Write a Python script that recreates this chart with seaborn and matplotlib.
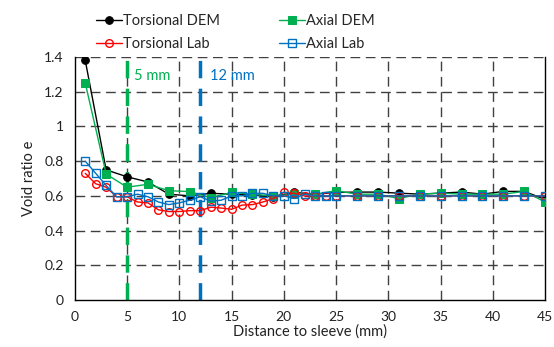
import numpy as np
import pandas as pd
import matplotlib
matplotlib.use("Agg")
import matplotlib.pyplot as plt
import seaborn as sns

# ---- data ----
x_dem = [1, 3, 5, 7, 9, 11, 13, 15, 17, 19, 21, 23, 25, 27, 29, 31, 33, 35, 37, 39, 41, 43, 45]
torsional_dem = [1.38, 0.75, 0.71, 0.68, 0.61, 0.60, 0.615, 0.61, 0.605, 0.595, 0.62, 0.61, 0.62,
                 0.622, 0.622, 0.616, 0.61, 0.616, 0.622, 0.61, 0.626, 0.626, 0.58]
axial_dem = [1.25, 0.726, 0.65, 0.667, 0.63, 0.625, 0.59, 0.62, 0.61, 0.60, 0.61, 0.61, 0.63,
             0.61, 0.61, 0.585, 0.61, 0.616, 0.61, 0.61, 0.61, 0.626, 0.565]

x_lab = [1, 2, 3, 4, 5, 6, 7, 8, 9, 10, 11, 12, 13, 14, 15, 16, 17, 18, 19, 20, 21, 22, 23, 24, 25,
         27, 29, 31, 33, 35, 37, 39, 41, 43, 45]
torsional_lab = [0.73, 0.67, 0.65, 0.595, 0.595, 0.565, 0.56, 0.52, 0.51, 0.51, 0.515, 0.515, 0.535,
                 0.53, 0.523, 0.547, 0.55, 0.565, 0.585, 0.62, 0.615, 0.60, 0.60, 0.60, 0.60,
                 0.60, 0.60, 0.60, 0.60, 0.60, 0.60, 0.60, 0.60, 0.60, 0.60]
axial_lab = [0.80, 0.73, 0.66, 0.595, 0.595, 0.61, 0.595, 0.565, 0.55, 0.56, 0.575, 0.595, 0.57,
             0.575, 0.60, 0.60, 0.615, 0.615, 0.60, 0.60, 0.585, 0.61, 0.60, 0.60, 0.60,
             0.60, 0.60, 0.60, 0.60, 0.60, 0.60, 0.60, 0.60, 0.60, 0.60]

x_ticks = [0, 5, 10, 15, 20, 25, 30, 35, 40, 45]
y_ticks = [0, 0.2, 0.4, 0.6, 0.8, 1.0, 1.2, 1.4]
y_tick_labels = ["0", "0.2", "0.4", "0.6", "0.8", "1", "1.2", "1.4"]
markers_lines = [(5, "5 mm"), (12, "12 mm")]

sns.set_theme(style="white")
plt.rcParams["font.family"] = ["Lato", "DejaVu Sans"]

fig = plt.figure(figsize=(5.54, 3.47), dpi=100)
ax = fig.add_axes([0.135, 0.135, 0.849, 0.701])

ax.set_xlim(0, 45)
ax.set_ylim(0, 1.4)

# gridlines
for xv in x_ticks[1:-1]:
    ax.axvline(xv, color="#404040", lw=1.0, ls=(0, (7, 4)), zorder=1)
for yv in y_ticks[1:]:
    ax.axhline(yv, color="#404040", lw=1.0, ls=(0, (7, 4)), zorder=1)

green = "#00B050"
blue = "#0070C0"
ax.axvline(markers_lines[0][0], color=green, lw=2.5, ls=(0, (5, 3)), zorder=2)
ax.axvline(markers_lines[1][0], color=blue, lw=2.5, ls=(0, (5, 3)), zorder=2)
ax.text(5.7, 1.29, markers_lines[0][1], color=green, fontsize=10.5, va="center", ha="left")
ax.text(12.9, 1.29, markers_lines[1][1], color=blue, fontsize=10.5, va="center", ha="left")

df_dem = pd.DataFrame({"x": x_dem, "td": torsional_dem, "ad": axial_dem})
df_lab = pd.DataFrame({"x": x_lab, "tl": torsional_lab, "al": axial_lab})

sns.lineplot(data=df_dem, x="x", y="td", ax=ax, color="black", lw=1.0, marker="o",
             markersize=5.5, markeredgecolor="black", markerfacecolor="black",
             label="Torsional DEM", zorder=3)
sns.lineplot(data=df_dem, x="x", y="ad", ax=ax, color=green, lw=1.0, marker="s",
             markersize=5.5, markeredgecolor=green, markerfacecolor=green,
             label="Axial DEM", zorder=3)
sns.lineplot(data=df_lab, x="x", y="tl", ax=ax, color="#FF0000", lw=1.0, marker="o",
             markersize=5.5, markeredgecolor="#FF0000", markerfacecolor="none",
             markeredgewidth=1.0, label="Torsional Lab", zorder=4)
sns.lineplot(data=df_lab, x="x", y="al", ax=ax, color=blue, lw=1.0, marker="s",
             markersize=5.5, markeredgecolor=blue, markerfacecolor="none",
             markeredgewidth=1.0, label="Axial Lab", zorder=4)

ax.set_xticks(x_ticks)
ax.set_yticks(y_ticks)
ax.set_yticklabels(y_tick_labels)
ax.tick_params(axis="both", length=0, labelsize=10, colors="#222222", pad=8)
ax.set_xlabel("Distance to sleeve (mm)", fontsize=10.5, color="#222222", labelpad=1)
ax.set_ylabel("Void ratio e", fontsize=10.5, color="#222222", labelpad=6)

for side in ["left", "bottom", "right"]:
    ax.spines[side].set_color("black")
    ax.spines[side].set_linewidth(1.0)
ax.spines["top"].set_visible(False)

handles, labels = ax.get_legend_handles_labels()
order = [0, 2, 1, 3]
leg = ax.legend([handles[i] for i in order], [labels[i] for i in order], ncol=2,
                loc="upper left", bbox_to_anchor=(0.032, 1.2), frameon=False,
                fontsize=10.5, handlelength=1.8, handletextpad=0.1, columnspacing=4.0,
                labelspacing=0.6, borderaxespad=0)

fig.savefig("out.png", dpi=100)
